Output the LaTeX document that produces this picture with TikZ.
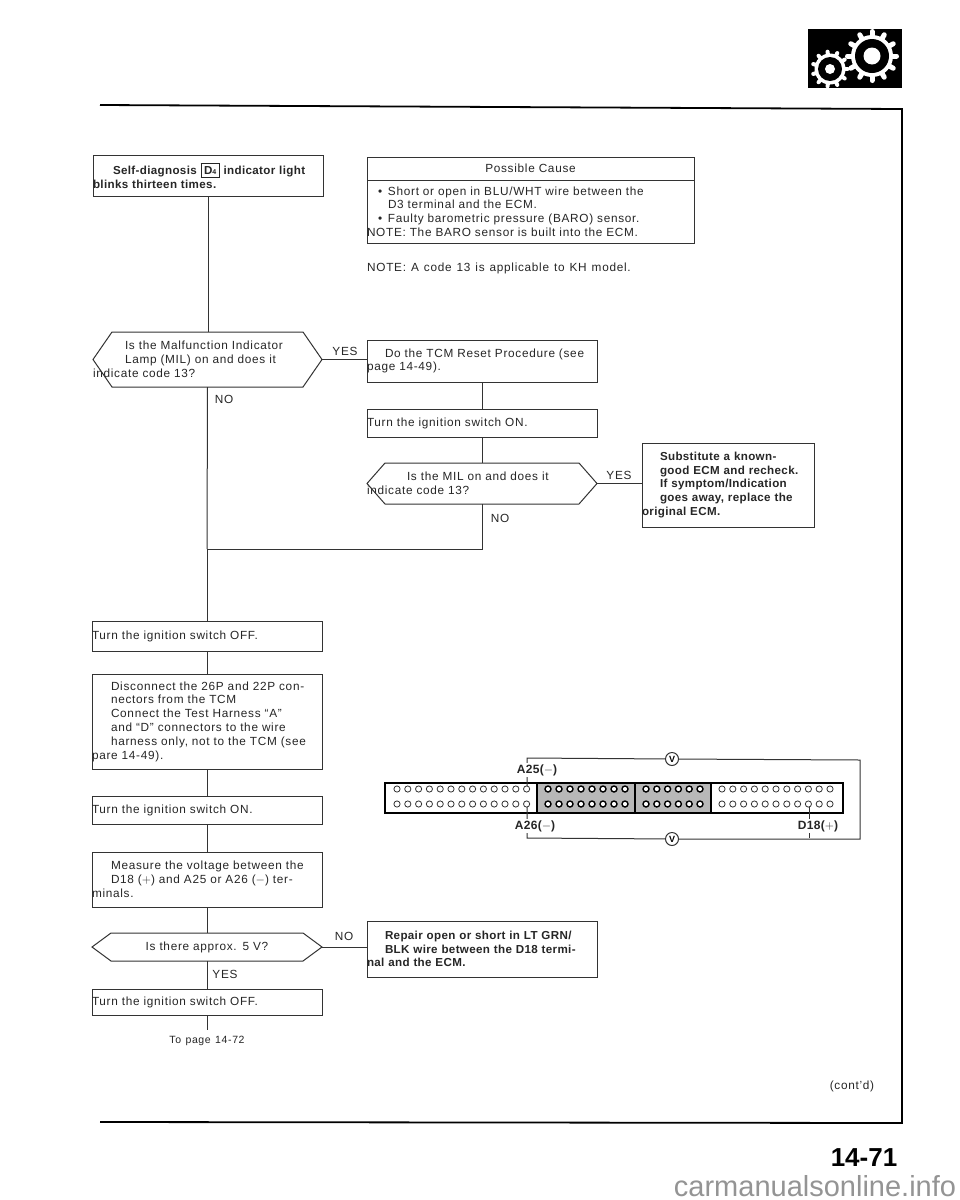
\documentclass[tikz,border=0pt]{standalone}
\usepackage{fontspec}
\usetikzlibrary{calc}
\setmainfont[LetterSpace=6,WordSpace=1.25]{Liberation Sans}
\newfontfamily\boldf[LetterSpace=3,BoldFont={Liberation Sans Bold}]{Liberation Sans Bold}
\newfontfamily\plainf{Liberation Sans}
\definecolor{ink}{gray}{0.2}
\definecolor{bodyink}{gray}{0.15}
\newcommand{\J}[2]{\makebox[#1pt][s]{#2}}
\newcommand{\hexa}[2]{\draw[conn] (#1.west) -- ($(#1.north west)+(#2,0)$) -- ($(#1.north east)+(-#2,0)$) -- (#1.east) -- ($(#1.south east)+(-#2,0)$) -- ($(#1.south west)+(#2,0)$) -- cycle;}
\newcommand{\gear}[8]{%
  \fill[white] (#1,#2) circle (#4pt);
  \foreach \i in {1,...,#8} {
    \draw[white,line width=#7pt,line cap=round] ($(#1,#2)+(\i*360/#8:#4-1)$) -- ($(#1,#2)+(\i*360/#8:#3-1.5)$);
  }
  \fill[black] (#1,#2) circle (#5pt);
  \fill[white] (#1,#2) circle (#6pt);
}
\begin{document}
\begin{tikzpicture}[x=1pt,y=-1pt,
  conn/.style={draw=ink,line width=1pt,line join=miter},
  bx/.style n args={2}{rectangle,draw=ink,line width=1pt,anchor=north west,outer sep=0pt,
    minimum width=#1pt,minimum height=#2pt,text width=#1pt,inner xsep=0pt,inner ysep=0pt,align=left,
    text=bodyink,font=\fontsize{11.8}{13.8}\selectfont},
  bb/.style={font=\boldf\fontsize{11.6}{13.8}\selectfont},
  hx/.style n args={2}{bx={#1}{#2},draw=none},
  lbl/.style={text=bodyink,font=\fontsize{11.8}{13.8}\selectfont,inner sep=0pt},
  term/.style={font=\boldf\fontsize{12}{14}\selectfont,text=bodyink,fill=white,inner xsep=1pt,inner ysep=1pt},
  volt/.style={circle,draw=ink,line width=1pt,fill=white,minimum size=13pt,inner sep=0pt,font=\boldf\fontsize{9}{9}\selectfont},
  pin/.style={draw=ink,line width=0.8pt},
  pinb/.style={draw=black,line width=1.4pt}]
\useasboundingbox (0,0) rectangle (960,1200);
\fill[white] (0,0) rectangle (960,1200);

% page frame
\coordinate (fa) at (100,105);
\coordinate (fb) at (902,109);
\coordinate (fc) at (902,1123);
\coordinate (fd) at (100,1122);
\draw[black,line width=1.8pt] (fa) -- (fb) -- (fc) -- (fd);

% gear emblem
\fill[black] (808,29) rectangle (902,88);
\gear{872}{56}{26}{21}{17}{8.5}{5}{12}
\gear{830}{69}{19}{15.5}{12}{5}{4}{11}

% left column
\node[bx={230}{41},bb] (self) at (93,155) {\leftskip=20pt Self-diagnosis \fbox{D{\fontsize{7}{7}\selectfont 4}} indicator light\\blinks thirteen times.};
\node[hx={229}{55}] (d1) at (93,332) {\leftskip=32pt Is the Malfunction Indicator\\Lamp (MIL) on and does it\\indicate code 13?};
\hexa{d1}{19}
\node[bx={230}{30}] (off1) at (92,621) {\leftskip=19pt Turn the ignition switch OFF.};
\node[bx={230}{95}] (disc) at (92,674) {\leftskip=19pt \J{190}{Disconnect the 26P and 22P con-}\\nectors from the TCM\\\J{190}{Connect the Test Harness ``A''}\\\J{190}{and ``D'' connectors to the wire}\\\J{190}{harness only, not to the TCM (see}\\pare 14-49).};
\node[bx={230}{28}] (on2) at (92,796) {\leftskip=19pt Turn the ignition switch ON.};
\node[bx={230}{55}] (meas) at (92,852) {\leftskip=19pt Measure the voltage between the\\D18 ($+$) and A25 or A26 ($-$) ter-\\minals.};
\node[hx={230}{28},align=center] (d3) at (92,933) {Is there approx. 5 V?};
\hexa{d3}{19}
\node[bx={230}{26}] (off2) at (92,989) {\leftskip=19pt Turn the ignition switch OFF.};
\coordinate (topage) at (207,1030);
\node[lbl] (topagetext) at (207,1041) {\fontsize{10.5}{12}\selectfont To page 14-72};

% middle column
\node[bx={327}{23},align=center] (pch) at (367,157) {Possible Cause};
\node[bx={327}{63}] (pcb) at (367,180) {\leftskip=21pt \hspace*{-10pt}\makebox[10pt][l]{\textbullet}Short or open in BLU/WHT wire between the\\D3 terminal and the ECM.\\\hspace*{-10pt}\makebox[10pt][l]{\textbullet}Faulty barometric pressure (BARO) sensor.\\NOTE: The BARO sensor is built into the ECM.};
\node[lbl,anchor=west] (note) at (367,268) {NOTE: A code 13 is applicable to KH model.};
\node[bx={230}{42}] (tcm) at (367,340) {\leftskip=18pt Do the TCM Reset Procedure (see\\page 14-49).};
\node[bx={230}{28}] (on1) at (367,409) {\leftskip=18pt Turn the ignition switch ON.};
\node[hx={230}{41}] (d2) at (367,463) {\leftskip=40pt Is the MIL on and does it\\indicate code 13?};
\hexa{d2}{18}
\node[bx={172}{84},bb] (subs) at (642,443) {\leftskip=18pt \J{135}{Substitute a known-}\\\J{135}{good ECM and recheck.}\\\J{135}{If symptom/Indication}\\\J{135}{goes away, replace the}\\original ECM.};
\node[bx={230}{56},bb] (rep) at (367,921) {\leftskip=18pt Repair open or short in LT GRN/\\BLK wire between the D18 termi-\\nal and the ECM.};

% connectors
\coordinate (join) at (207,549);
\coordinate (joinr) at (482,549);
\draw[conn] (self.south) -- (self.south |- d1.north);
\draw[conn] (d1.south) -- (join);
\draw[conn] (join) -- (off1.north);
\draw[conn] (off1.south) -- (disc.north);
\draw[conn] (disc.south) -- (on2.north);
\draw[conn] (on2.south) -- (meas.north);
\draw[conn] (meas.south) -- (d3.north);
\draw[conn] (d3.south) -- (off2.north);
\draw[conn] (off2.south) -- (topage);
\draw[conn] (d1.east) -- (d1.east -| tcm.west);
\draw[conn] (tcm.south) -- (on1.north);
\draw[conn] (on1.south) -- (d2.north);
\draw[conn] (d2.south) -- (joinr) -- (join);
\draw[conn] (d2.east) -- (d2.east -| subs.west);
\draw[conn] (d3.east) -- (d3.east -| rep.west);

% branch labels
\node[lbl] (y1) at (345,351) {YES};
\node[lbl] (n1) at (224,399) {NO};
\node[lbl] (y2) at (619,475) {YES};
\node[lbl] (n2) at (500,518) {NO};
\node[lbl] (n3) at (344,936) {NO};
\node[lbl] (y3) at (225,974) {YES};

% connector face
\fill[black!28] (537,783) rectangle (711,813);
\draw[black,line width=1.8pt] (385,783) rectangle (843,813);
\draw[black,line width=1.8pt] (537,783) -- (537,813) (635,783) -- (635,813) (711,783) -- (711,813);
\foreach \i in {0,...,12} {
  \draw[pin] (397+\i*10.8,789) circle (3.1);
  \draw[pin] (397+\i*10.8,804) circle (3.1);
}
\foreach \i in {0,...,7} {
  \draw[pinb,fill=white] (548+\i*11,789) circle (3);
  \draw[pinb,fill=white] (548+\i*11,804) circle (3);
}
\foreach \i in {0,...,5} {
  \draw[pinb,fill=white] (646+\i*10.8,789) circle (3);
  \draw[pinb,fill=white] (646+\i*10.8,804) circle (3);
}
\foreach \i in {0,...,10} {
  \draw[pin] (722+\i*10.8,789) circle (3.1);
  \draw[pin] (722+\i*10.8,804) circle (3.1);
}
\coordinate (a25) at (527,786);
\coordinate (a26) at (527,807);
\coordinate (d18) at (809,807);
\coordinate (wa) at (527,758);
\coordinate (wb) at (860,760);
\coordinate (wc) at (860,839);
\coordinate (wd) at (527,838);
\coordinate (we) at (809,838);
\node[volt] (v1) at (672,759) {V};
\node[volt] (v2) at (672,839) {V};
\draw[conn] (a25) -- (wa) -- (v1);
\draw[conn] (v1) -- (wb) -- (wc) -- (v2);
\draw[conn] (v2) -- (wd) -- (a26);
\draw[conn] (d18) -- (we);
\node[term] (la25) at (537,770) {A25($-$)};
\node[term] (la26) at (535,826) {A26($-$)};
\node[term] (ld18) at (818,826) {D18($+$)};

% page furniture
\node[lbl] (cont) at (852,1086) {(cont'd)};
\node[inner sep=0pt,text=black] (pageno) at (864,1158) {\plainf\bfseries\fontsize{26}{26}\selectfont 14-71};
\node[inner sep=0pt,text=black!42] (wm) at (815,1186) {\plainf\fontsize{29}{29}\selectfont carmanualsonline.info};
\end{tikzpicture}
\end{document}
